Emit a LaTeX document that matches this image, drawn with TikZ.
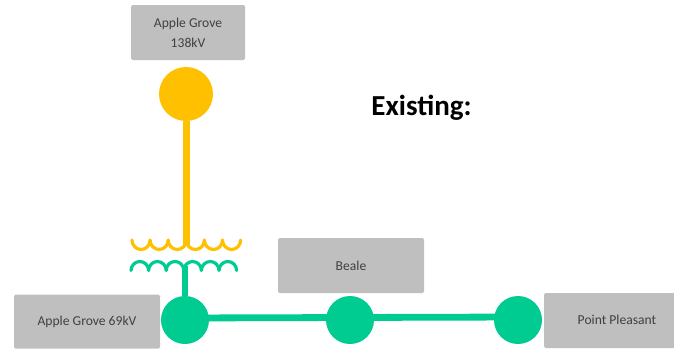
\documentclass[tikz,border=0pt]{standalone}
\usepackage{fontspec}
\setmainfont{Carlito}
\definecolor{boxgray}{HTML}{BFBFBF}
\definecolor{busgreen}{HTML}{00CC92}
\definecolor{hvgold}{HTML}{FFC000}
\definecolor{txt}{HTML}{404040}
\tikzset{
  station/.style={fill=boxgray,rounded corners=1.5pt,inner sep=0pt,align=center,text=txt,
    font=\fontsize{13.6}{20}\selectfont},
  bus/.style={circle,inner sep=0pt,minimum size=#1},
  greenbus/.style={bus=48pt,fill=busgreen},
  goldbus/.style={bus=54pt,fill=hvgold},
  greenline/.style={draw=busgreen,line width=6.8pt},
  goldline/.style={draw=hvgold,line width=7pt},
  coilgold/.style={draw=hvgold,line width=3.2pt,line cap=round,line join=round},
  coilgreen/.style={draw=busgreen,line width=3.2pt,line cap=round,line join=round}
}
\begin{document}
\begin{tikzpicture}[x=1pt,y=-1pt]
\useasboundingbox (0,0) rectangle (674,348);
\coordinate (tapgold) at (186,245);
\coordinate (tapgreen) at (185,266);
\node[goldbus] (ag138) at (186,94) {};
\node[greenbus] (ag69) at (185,320) {};
\node[greenbus] (beale) at (350,320) {};
\node[greenbus] (pp) at (518,320) {};
\draw[goldline] (ag138) -- (tapgold);
\draw[greenline] (ag69) -- (tapgreen);
\draw[greenline] ([yshift=2pt]ag69.center) -- ([yshift=2.5pt]beale.center) -- ([yshift=3pt]pp.center);
% transformer windings
\draw[coilgold] (132,240)
  \foreach \i in {1,...,6}{ arc[start angle=180,end angle=360,x radius=9.05,y radius=-9.5] };
\draw[coilgreen] (131,270.5)
  \foreach \i in {1,...,6}{ arc[start angle=180,end angle=0,x radius=8.8,y radius=-9] };
% stations
\node[station,minimum width=114pt,minimum height=55pt] (lab138) at (188,32.5) {Apple Grove\\138kV};
\node[station,minimum width=146pt,minimum height=54pt] (lab69) at (87,321.5) {Apple Grove 69kV};
\node[station,minimum width=146pt,minimum height=55pt] (labbeale) at (351,265.5) {Beale};
\fill[boxgray,rounded corners=1.5pt] (544,293) rectangle (680,348);
\node[text=txt,font=\fontsize{13.6}{20}\selectfont,inner sep=0pt] (labpp) at (617,320) {Point Pleasant};
\node[font=\fontsize{29}{32}\selectfont\bfseries,inner sep=0pt,text=black] (title) at (421.5,108) {Existing:};
\end{tikzpicture}
\end{document}
